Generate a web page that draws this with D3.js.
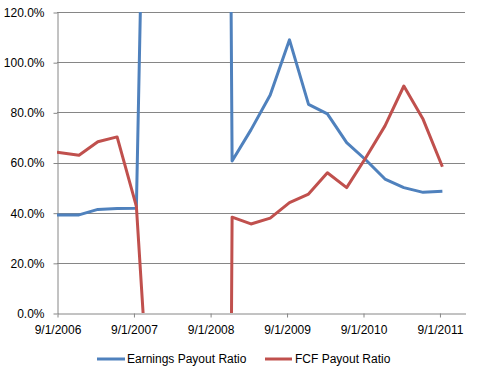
<!DOCTYPE html>
<html>
<head>
<meta charset="utf-8">
<script src="https://cdn.jsdelivr.net/npm/d3@7/dist/d3.min.js"></script>
<style>
  html, body { margin: 0; padding: 0; background: #fff; }
  svg { display: block; }
  text { font-family: "Liberation Sans", Arial, sans-serif; fill: #000; }
</style>
</head>
<body>
<script>
// ---- data ----
const dates = [
  "2006-09-01", "2006-12-15", "2007-03-15", "2007-06-15", "2007-09-15",
  "2007-12-15", "2008-03-15", "2008-06-15", "2008-09-15", "2008-12-15",
  "2009-03-15", "2009-06-15", "2009-09-15", "2009-12-15", "2010-03-15",
  "2010-06-15", "2010-09-15", "2010-12-15", "2011-03-15", "2011-06-15",
  "2011-09-15"
];
// values in percent
const earningsPayout = [
  39.1, 39.1, 41.3, 41.7, 41.8,
  420, 600, 900, 1230, 60.6,
  73.0, 86.9, 108.9, 83.2, 79.4,
  67.9, 61.0, 53.4, 50.0, 48.1,
  48.5
];
const fcfPayout = [
  64.1, 62.9, 68.3, 70.2, 42.5,
  -78, -500, -900, -1200, 38.2,
  35.5, 37.8, 44.0, 47.4, 55.9,
  50.0, 62.0, 74.6, 90.5, 77.2,
  58.3
];
const seriesNames = ["Earnings Payout Ratio", "FCF Payout Ratio"];
const seriesColors = ["#4F81BD", "#C0504D"];
const yTicks = [0, 0.2, 0.4, 0.6, 0.8, 1.0, 1.2];
const xTickDates = ["2006-09-01", "2007-09-01", "2008-09-01", "2009-09-01", "2010-09-01", "2011-09-01"];
const xDomain = ["2006-09-01", "2012-01-01"];

// ---- layout ----
const W = 479, H = 377;
const plot = { left: 57, right: 465, top: 12, bottom: 313 };
const parse = d3.utcParse("%Y-%m-%d");

const svg = d3.select("body").append("svg").attr("width", W).attr("height", H);

const x = d3.scaleUtc().domain(xDomain.map(parse)).range([plot.left, plot.right]);
const y = d3.scaleLinear().domain([0, 1.2]).range([plot.bottom, plot.top]);

const gridColor = "#868686";

// gridlines
svg.append("g").selectAll("line").data(yTicks.filter(d => d > 0)).join("line")
  .attr("x1", plot.left).attr("x2", plot.right)
  .attr("y1", d => Math.round(y(d)) + 0.5).attr("y2", d => Math.round(y(d)) + 0.5)
  .attr("stroke", gridColor).attr("stroke-width", 1);

// y axis
const yAxis = d3.axisLeft(y).tickValues(yTicks).tickFormat(d3.format(".1%"))
  .tickSize(4).tickPadding(9).tickSizeOuter(0);
const gy = svg.append("g").attr("transform", `translate(${plot.left + 0.5},0.5)`).call(yAxis);
gy.selectAll("path, line").attr("stroke", gridColor);
gy.selectAll("text").style("font-size", "12px").attr("font-family", null);

// x axis
const fmt = d => `${d.getUTCMonth() + 1}/${d.getUTCDate()}/${d.getUTCFullYear()}`;
const xAxis = d3.axisBottom(x).tickValues(xTickDates.map(parse)).tickFormat(fmt)
  .tickSize(4).tickPadding(8).tickSizeOuter(0);
const gx = svg.append("g").attr("transform", `translate(0.5,${plot.bottom + 0.5})`).call(xAxis);
gx.selectAll("path, line").attr("stroke", gridColor);
gx.selectAll("text").style("font-size", "12px").attr("font-family", null);

// clip
svg.append("clipPath").attr("id", "plotClip").append("rect")
  .attr("x", plot.left).attr("y", plot.top)
  .attr("width", plot.right - plot.left).attr("height", plot.bottom - plot.top);

const series = [earningsPayout, fcfPayout];
const line = d3.line().x(d => x(d.date)).y(d => y(d.value / 100));

const lines = svg.append("g").attr("clip-path", "url(#plotClip)");
series.forEach((vals, i) => {
  const pts = dates.map((d, j) => ({ date: parse(d), value: vals[j] }));
  lines.append("path").datum(pts)
    .attr("d", line)
    .attr("fill", "none")
    .attr("stroke", seriesColors[i])
    .attr("stroke-width", 3)
    .attr("stroke-linejoin", "round");
});

// legend
const legendItems = [
  { x1: 97, x2: 125, tx: 127 },
  { x1: 265, x2: 292, tx: 295 }
];
const ly = 359;
const lg = svg.append("g");
legendItems.forEach((it, i) => {
  lg.append("line").attr("x1", it.x1).attr("x2", it.x2).attr("y1", ly).attr("y2", ly)
    .attr("stroke", seriesColors[i]).attr("stroke-width", 3);
  lg.append("text").attr("x", it.tx).attr("y", ly).attr("dy", "0.35em")
    .style("font-size", "12px").text(seriesNames[i]);
});
</script>
</body>
</html>
